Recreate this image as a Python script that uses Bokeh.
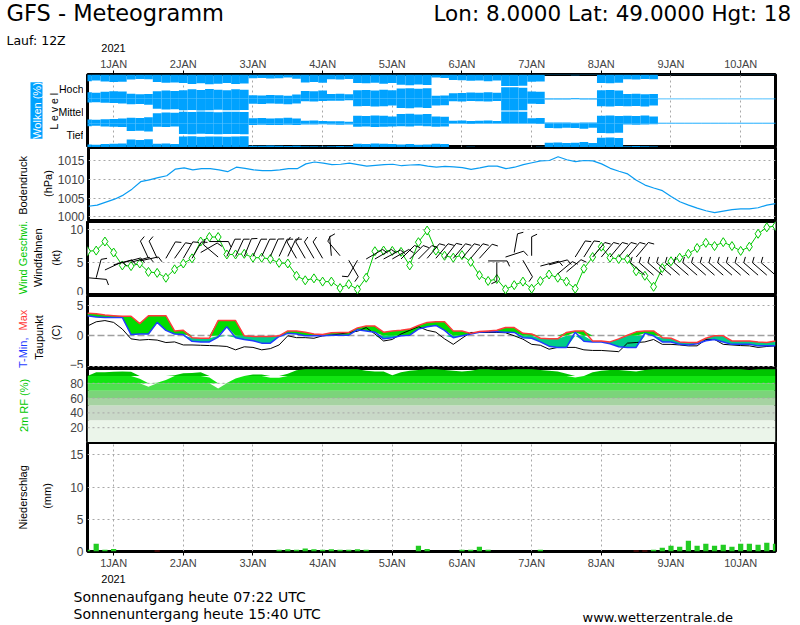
import numpy as np
from bokeh.plotting import figure
from bokeh.layouts import column, row
from bokeh.models import Range1d, FixedTicker, Span, Grid
from bokeh.embed import file_html
from bokeh.resources import INLINE
from bokeh.core.properties import value

# ---------------- data ----------------
hours = list(range(3, 243, 3))          # forecast hours, run 31 DEC 2020 12Z
day_ticks = list(range(10))
day_labels = ["1JAN", "2JAN", "3JAN", "4JAN", "5JAN", "6JAN", "7JAN", "8JAN", "9JAN", "10JAN"]
level_labels = ["Tief", "Mittel", "Hoch"]

cloud_high = [55,50,58, 62,60, 42,38,40, 62,68,65, 70,78,72,80,75,70,78,74, 30,28,32,30,25,35,
              65,62,68, 40,42,38, 70,72,68,75,70, 85,88,82,86, 25,28, 45,48,52,50,55,50,
              95,95,92, 60,58, 5,5,4,6,5,5, 70,72,68, 40,42,38,40, 2,2,3,2,2,2,2,3,2,2,2,2,2,3]
cloud_mid = [30,28,32, 35,38, 45,42,48, 82,88,85, 93,92,95,93,90,94,93,92, 40,42,38,40,45,38,
             20,22,18, 15,15,12, 60,58,62,60,55, 75,78,72,75, 55,52, 20,22,18,20,22,18,
             95,96,94, 40,42, 5,5,6,4,5,5, 60,62,58, 60,58,62,55, 4,4,4,4,4,4,4,4,4,4,4,4,4,4]
cloud_low = [25,22,28, 30,32, 65,62,68, 30,32,28, 90,92,88,90,91,89,90,92, 15,14,16,15,12,15,
             10,10,8, 10,12,10, 30,28,32,30,28, 25,28,22,25, 30,28, 5,5,6,5,4,5,
             5,5,5, 5,6, 40,42,38,40,45,38, 80,82,78, 10,12,10,8, 4,4,4,4,4,4,4,4,4,4,4,4,4,4]

pressure = [1002.8,1003.1,1003.9,1004.7,1005.8,1007.4,1009.4,1009.9,1010.5,1011.0,
            1012.8,1013.1,1012.6,1012.9,1012.9,1012.6,1012.1,1013.3,1013.0,1012.6,
            1012.4,1012.4,1012.6,1012.9,1012.9,1014.2,1014.7,1014.4,1014.0,1014.1,
            1014.4,1014.0,1013.6,1013.8,1014.0,1014.1,1013.7,1013.9,1014.0,1013.6,
            1013.3,1013.5,1013.4,1013.2,1012.7,1013.1,1013.6,1013.6,1012.9,1013.3,
            1014.0,1014.5,1015.0,1015.1,1016.1,1015.3,1014.8,1015.1,1015.0,1014.2,
            1013.0,1012.2,1011.5,1009.8,1008.5,1007.7,1007.0,1005.4,1004.0,1003.1,
            1002.3,1001.6,1001.1,1001.5,1001.9,1002.1,1002.1,1002.4,1003.1,1003.5]

wind_speed = [6.7,6.8,8.2,6.5,4.5,4.4,4.8,3.5,3.35,2.6, 3.9,4.8,5.6,8.2,8.9,8.9,6.2,6.2,6.3,5.7,
              5.7,5.5,4.9,4.8,2.9,2.2,2.5,2.0,2.0,1.0, 1.6,0.8,2.6,6.7,6.8,6.75,6.6,4.5,8.1,9.9,
              6.8,6.0,5.7,6.1,5.05,3.0,2.1,2.4,0.8,1.45, 2.0,0.9,2.1,3.1,2.6,2.0,0.9,4.0,5.8,7.4,
              5.7,5.5,5.5,3.6,2.9,1.2,4.1,5.15,5.7,6.3, 7.2,8.0,7.5,8.1,7.5,6.75,7.4,9.4,10.4,10.6]

barb_dir = [-5,75,25,15,15,15,12,115,115,60, 55,60,60,30,0,140,65,65,68,65,
            65,66,65,65,120,120,120,120,95,130, -60,-120,30,30,28,30,45,45,45,50,
            50,52,50,50,50,48,0,-90,18,80, -60,90,15,15,40,40,58,58,50,50,
            50,50,50,50,139,139,139,139,139,139, 139,139,139,139,139,139,139,139,139,139]
barb_level = [2.6,2.6,3.8,4.6,4.9,5.0,5.2,5.6,5.6,5.6, 5.6,5.6,5.6,6.5,8.2,5.8,5.9,5.9,5.9,5.9,
              5.9,5.9,5.9,5.9,5.6,5.6,5.6,5.6,6.0,6.0, 5.3,5.3,5.5,5.5,5.5,5.5,5.5,5.5,5.5,5.6,
              5.6,5.6,5.6,5.6,5.6,5.6,5.2,5.0,5.8,6.5, 5.3,6.0,4.4,4.6,3.2,3.5,5.8,5.8,5.8,5.8,
              5.8,5.8,5.8,5.8,3.0,3.0,3.0,3.0,3.0,3.0, 3.0,3.0,3.0,3.0,3.0,3.0,3.0,3.0,3.0,3.0]

t_max = [3.7,3.6,3.4,3.3,3.2,3.2,2.0,3.3,3.3,3.3, 0.8,0.9,-0.3,-0.4,-0.4,2.5,2.5,2.5,0.0,-0.1,
         -0.1,-0.1,0.0,0.8,0.8,0.6,0.3,0.2,0.5,0.55, 0.55,1.3,1.6,1.6,0.6,0.8,0.9,1.1,1.7,2.2,
         2.3,2.3,0.8,0.8,0.4,0.7,0.8,0.9,1.35,1.35, 0.4,0.3,-0.4,-0.5,-0.5,0.55,0.8,0.8,-0.85,-0.85,
         -1.0,-0.5,0.1,0.65,0.8,0.8,-0.3,-0.4,-1.0,-1.1, -1.1,-0.4,0.0,0.0,-0.85,-0.85,-0.85,-1.0,-1.1,-0.85]
t_min = [3.3,3.1,3.0,3.0,3.0,0.2,0.3,0.3,2.2,0.9, 0.3,0.2,-0.9,-1.0,-1.0,-0.2,1.5,-0.3,-0.6,-0.8,
         -1.2,-1.2,-0.1,0.4,0.3,0.0,0.0,0.0,0.1,0.1, 0.1,1.0,0.8,0.6,-0.5,-0.3,0.0,0.1,1.1,1.5,
         1.7,0.9,-0.3,0.0,0.3,0.6,0.65,0.65,0.6,0.55, -0.3,-0.4,-1.0,-1.7,-1.9,-1.9,0.6,-0.9,-1.0,-1.0,
         -1.3,-1.8,-1.9,-1.9,0.4,0.0,-1.0,-1.0,-1.4,-1.5, -1.3,-0.8,-0.6,-1.0,-1.4,-1.4,-1.4,-1.65,-1.65,-1.65]
dew_point = [1.6,2.3,2.5,2.2,1.1,-0.5,-0.7,-0.6,-0.7,-1.1, -1.0,-1.5,-1.5,-1.55,-1.6,-1.65,-1.75,-2.3,-1.8,-1.9,
             -2.3,-2.1,-1.5,0.0,-0.3,-0.3,-0.4,0.0,0.1,0.3, 0.55,0.75,1.35,0.3,-0.85,-0.6,0.3,0.9,1.5,0.9,
             0.6,-0.5,-1.4,-0.4,0.55,0.55,0.55,0.55,0.5,0.0, -0.55,-1.4,-1.55,-2.2,-1.9,-1.9,-1.9,-2.3,-2.4,-2.4,
             -2.5,-2.6,-1.2,-1.1,-1.0,-0.6,-1.4,-1.4,-1.5,-1.65, -1.65,-0.6,-0.6,-1.4,-1.5,-1.6,-1.65,-1.9,-1.75,-1.65]

rel_hum = [89.7,95,95,95.5,96,95.5,86,75.5,80.8,84.5, 91,93.5,94,95,88,73,80.5,86.5,90,92,
           92,87.5,87.5,93,97.5,99,99,99,99,99, 99,99,97,96,96,91,95,97,98,99,
           99,98,97,96,97,99,99,98,98,99, 99,99,98,97,96,93,88,90,95,97,
           98,98,97,96,98,99,99,99,99,99, 99,99,98,99,99,99,98,99,99,99]

precip = [0.26,1.2,0.26,0.4,0,0,0,0,0,0, 0,0,0,0,0,0,0,0,0,0,
          0,0,0.26,0.35,0.26,0.46,0.35,0.26,0.35,0.26, 0.26,0.35,0.26,0,0,0,0,0,0.88,0.4,
          0,0,0,0.26,0.26,0.72,0.26,0,0,0, 0,0,0.26,0,0,0,0,0,0,0,
          0,0,0,0,0,0.26,0.57,0.88,0.72,1.65, 0.88,1.2,0.88,1.03,0.72,1.2,1.2,1.03,1.34,1.2]
precip_red = [0,0,0,0,0,0,0,0,0.12,0, 0,0,0,0,0,0,0,0,0,0,
              0,0,0,0,0,0,0,0,0,0, 0,0,0,0,0,0,0,0,0,0,
              0,0,0,0,0,0,0,0,0,0, 0,0,0,0,0,0,0,0,0,0,
              0,0,0,0.12,0.12,0,0,0,0,0, 0,0,0,0,0,0,0,0,0,0]

# ---------------- helpers ----------------
t = (np.array(hours) - 12) / 24.0     # days since 1 JAN 2021 00Z
X0, X1 = -0.375, 9.5
W = 800            # page width
LEFT = 87          # frame left edge
RB = 25            # right border
FW = W - LEFT - RB
FONT = "Liberation Sans"
GRID = "#a8a8a8"
GREEN = "#00c800"
BLUE = "#00a2ff"
day_over = {d: lab for d, lab in zip(day_ticks, day_labels)}
xr = Range1d(X0, X1)


def panel(h, yr, lw, top=0, bottom=0, xloc=None, yloc="left"):
    p = figure(width=W - lw, height=h + top + bottom, x_range=xr, y_range=yr,
               x_axis_location=xloc, y_axis_location=yloc,
               toolbar_location=None, output_backend="svg",
               min_border_left=LEFT - lw, min_border_right=RB,
               min_border_top=top, min_border_bottom=bottom)
    p.title.visible = False
    p.outline_line_color = "black"
    p.outline_line_width = 3
    p.outline_line_alpha = 1.0
    p.xgrid.visible = False
    p.ygrid.visible = False
    return p


def labfig(p, lw, top=0, bottom=0):
    f = figure(width=lw, height=p.height, x_range=Range1d(0, lw), y_range=p.y_range,
               x_axis_location=None, y_axis_location=None, toolbar_location=None,
               output_backend="svg", min_border_left=0, min_border_right=0,
               min_border_top=top, min_border_bottom=bottom, outline_line_color=None)
    f.title.visible = False
    f.grid.visible = False
    return f


def vtext(f, x, y, txt, color="black", align="center", size="11px", bg=None):
    kw = {}
    if bg is not None:
        kw["background_fill_color"] = bg
    f.text(x=[x], y=[y], text=[txt], angle=np.pi / 2, text_align=align, text_baseline="middle",
           text_font=value(FONT), text_font_size=value(size), text_color=color, **kw)


def style_y(p, ticks):
    ax = p.yaxis[0]
    ax.ticker = FixedTicker(ticks=ticks)
    ax.axis_line_color = None
    ax.major_tick_out = 0
    ax.major_tick_in = 0
    ax.minor_tick_out = 0
    ax.minor_tick_in = 0
    ax.major_label_text_font = FONT
    ax.major_label_text_font_size = "12px"
    ax.major_label_standoff = 4


def style_x(p):
    ax = p.xaxis[0]
    ax.ticker = FixedTicker(ticks=day_ticks)
    ax.major_label_overrides = day_over
    ax.axis_line_color = None
    ax.major_tick_out = 4
    ax.major_tick_in = 0
    ax.minor_tick_out = 0
    ax.minor_tick_in = 0
    ax.major_label_text_font = FONT
    ax.major_label_text_font_size = "11px"
    ax.major_label_standoff = 1


def vgrid(p):
    p.xgrid.visible = True
    p.xgrid.ticker = FixedTicker(ticks=day_ticks)
    p.xgrid.grid_line_color = GRID
    p.xgrid.grid_line_dash = "2 3"


def hgrid(p, ticks):
    p.ygrid.visible = True
    p.ygrid.ticker = FixedTicker(ticks=ticks)
    p.ygrid.grid_line_color = GRID
    p.ygrid.grid_line_dash = "2 3"


def blank(h):
    f = figure(width=W, height=h, x_range=Range1d(0, W), y_range=Range1d(0, h),
               x_axis_location=None, y_axis_location=None, toolbar_location=None,
               output_backend="svg", min_border=0, outline_line_color=None)
    f.title.visible = False
    f.grid.visible = False
    return f


# ---------------- header ----------------
hdr = blank(54)
hdr.text(x=[6], y=[41.5], text=["GFS - Meteogramm"],
         text_font=value("DejaVu Sans"), text_font_size=value("22.5px"),
         text_baseline="middle", text_align="left", text_color="black")
hdr.text(x=[433], y=[41.5], text=["Lon: 8.0000 Lat: 49.0000 Hgt: 18"],
         text_font=value("DejaVu Sans"), text_font_size=value("21.5px"),
         text_baseline="middle", text_align="left", text_color="black")
hdr.text(x=[6], y=[14], text=["Lauf: 12Z"], text_font=value("DejaVu Sans"),
         text_font_size=value("12.5px"), text_baseline="middle", text_align="left")
hdr.text(x=[113], y=[6.5], text=["2021"], text_font=value(FONT),
         text_font_size=value("11px"), text_baseline="middle", text_align="center")

# ---------------- clouds ----------------
LWc = 83
pc = panel(73, Range1d(0, 3), LWc, top=20, xloc="above", yloc=None)
style_x(pc)
vgrid(pc)
half = 0.0625
for base, cov in ((0, cloud_low), (1, cloud_mid), (2, cloud_high)):
    c = np.array(cov) / 100.0
    pc.quad(left=t - half, right=t + half, bottom=np.full(len(t), base), top=base + c / 2,
            fill_color=BLUE, line_color=None)
    pc.quad(left=t - half, right=t + half, bottom=base + 1 - c / 2, top=np.full(len(t), base + 1),
            fill_color=BLUE, line_color=None)
lc = labfig(pc, LWc, top=20)
vtext(lc, 36, 1.52, "Wolken (%)", color="white", bg=BLUE)
vtext(lc, 53, 1.5, "L e v e l", size="10.5px")
lc.text(x=[83, 83, 83], y=[0.5, 1.45, 2.42], text=level_labels, text_align="right",
        text_baseline="middle", text_font=value(FONT), text_font_size=value("10.5px"))

# ---------------- pressure ----------------
LWp = 54
pp = panel(74, Range1d(998.7, 1018.6), LWp)
style_y(pp, [1000, 1005, 1010, 1015])
hgrid(pp, [1000, 1005, 1010, 1015])
pp.line(t, pressure, line_color="#0a9cf2", line_width=1.2)
lp = labfig(pp, LWp)
vtext(lp, 22, 1008.4, "Bodendruck")
vtext(lp, 47, 1008.9, "(hPa)")

# ---------------- wind ----------------
LW = 65
WY0, WY1 = -0.15, 11.3
pw = panel(74, Range1d(WY0, WY1), LW)
style_y(pw, [0, 5, 10])
hgrid(pw, [5, 10])
pw.line(t, wind_speed, line_color=GREEN, line_width=1)
pw.scatter(t, wind_speed, marker="diamond", size=9, fill_color="white", line_color=GREEN, line_width=1)
pxd = FW / (X1 - X0)
pxk = 74 / (WY1 - WY0)
ang = np.radians(barb_dir)
lvl = np.array(barb_level)
L, F = 19.0, 6.0
bx1 = t + L * np.cos(ang) / pxd
by1 = lvl + L * np.sin(ang) / pxk
fa = ang - np.radians(65)
fx1 = bx1 + F * np.cos(fa) / pxd
fy1 = by1 + F * np.sin(fa) / pxk
pw.segment(x0=t, y0=lvl, x1=bx1, y1=by1, line_color="black", line_width=1)
pw.segment(x0=bx1, y0=by1, x1=fx1, y1=fy1, line_color="black", line_width=1)
lw_ = labfig(pw, LW)
vtext(lw_, 22, 5.7, "Wind Geschwi.", color=GREEN)
vtext(lw_, 37, 5.7, "Windfahnen")
vtext(lw_, 55, 5.7, "(kt)")

# ---------------- temperature ----------------
pt = panel(73, Range1d(-5.36, 6.61), LW)
style_y(pt, [-5, 0, 5])
hgrid(pt, [-5, 5])
pt.add_layout(Grid(dimension=1, ticker=FixedTicker(ticks=[0]), grid_line_color="#a0a0a0",
                   grid_line_dash="7 3", grid_line_width=1.5), "center")
tmax = np.array(t_max)
tmin = np.array(t_min)
pt.varea(x=t, y1=np.maximum(tmin, 0), y2=np.maximum(tmax, 0), fill_color="#00dd00")
pt.varea(x=t, y1=np.minimum(tmin, 0), y2=np.minimum(tmax, 0), fill_color="#00cc88")
pt.line(t, dew_point, line_color="black", line_width=1)
pt.line(t, tmin, line_color="#1f3cff", line_width=1.5)
pt.line(t, tmax, line_color="#ff3a3a", line_width=1.5)
lt = labfig(pt, LW)
vtext(lt, 22, -0.28, "T-Min,", color="#1f3cff", align="right")
vtext(lt, 22, 0.87, "Max", color="#ff3a3a", align="left")
vtext(lt, 38, -0.28, "Taupunkt")
vtext(lt, 55, 0.54, "(C)")

# ---------------- relative humidity ----------------
ph = panel(74, Range1d(0, 100), LW)
style_y(ph, [20, 40, 60, 80])
rh = np.array(rel_hum)
bands = [(0, 30, "#ebf5ea"), (30, 50, "#c9d9c8"), (50, 60, "#a6d3a2"), (60, 70, "#7bd47a"),
         (70, 80, "#4fe04f"), (80, 90, "#12e612"), (90, 100, "#00c400")]
for lo, hi, col in bands:
    ph.varea(x=t, y1=np.full(len(t), lo), y2=np.clip(rh, lo, hi), fill_color=col)
for yv in [20, 40, 60, 80]:
    ph.add_layout(Span(location=yv, dimension="width", line_color=GRID, line_dash="2 3", line_width=1))
lh = labfig(ph, LW)
vtext(lh, 23, 50, "2m RF (%)", color=GREEN)

# ---------------- precipitation ----------------
pr = panel(110, Range1d(0, 16.9), LW, bottom=19, xloc="below")
style_x(pr)
style_y(pr, [0, 5, 10, 15])
vgrid(pr)
hgrid(pr, [5, 10, 15])
pr.vbar(x=t, top=precip, bottom=0, width=0.075, fill_color="#22cc22", line_color=None)
pr.vbar(x=t, top=precip_red, bottom=0, width=0.075, fill_color="#ff2020", line_color=None)
lr = labfig(pr, LW, bottom=19)
vtext(lr, 22, 8.4, "Niederschlag")
vtext(lr, 46, 8.6, "(mm)")

# ---------------- footer ----------------
ftr = blank(54)
ftr.text(x=[113], y=[47], text=["2021"], text_font=value(FONT), text_font_size=value("11px"),
         text_baseline="middle", text_align="center")
ftr.text(x=[73, 73], y=[29, 12], text=["Sonnenaufgang heute 07:22 UTC", "Sonnenuntergang heute 15:40 UTC"],
         text_font=value("DejaVu Sans"), text_font_size=value("14px"),
         text_baseline="middle", text_align="left")
ftr.text(x=[582], y=[8], text=["www.wetterzentrale.de"], text_font=value("DejaVu Sans"),
         text_font_size=value("13px"), text_baseline="middle", text_align="left")

layout = column(hdr,
                row(lc, pc, spacing=0), row(lp, pp, spacing=0), row(lw_, pw, spacing=0),
                row(lt, pt, spacing=0), row(lh, ph, spacing=0), row(lr, pr, spacing=0),
                ftr, spacing=0)
open("out.html", "w").write(file_html(layout, INLINE))
